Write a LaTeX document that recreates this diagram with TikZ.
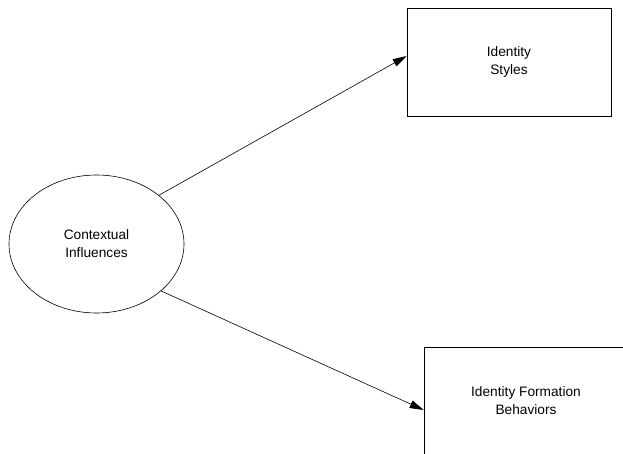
\documentclass[tikz,border=0pt]{standalone}
\usepackage{fontspec}
\setmainfont{Liberation Sans}
\usetikzlibrary{shapes.geometric,arrows.meta}
\begin{document}
\begin{tikzpicture}[x=1pt,y=-1pt]

    \tikzset{
      influence/.style={
        draw,
        ellipse,
        line width=0.6pt,
        inner sep=0pt,
        minimum width=175pt,
        minimum height=138pt,
        align=center,
        font=\fontsize{13.7}{18}\selectfont,
      },
      outcome/.style={
        draw,
        rectangle,
        line width=0.6pt,
        inner sep=0pt,
        minimum width=204pt,
        minimum height=108pt,
        align=center,
        font=\fontsize{13.7}{18}\selectfont,
      },
      link/.style={
        line width=0.6pt,
        -{Triangle[length=14pt,width=8pt]},
      },
    }
    \useasboundingbox (0,0) rectangle (623,453);
    \clip (0,0) rectangle (623,453);
	\node[influence] (ctx) at (96.5,244) {Contextual\\Influences};
	\node[outcome] (styles) at (509,62) {Identity\\Styles};
	\node[outcome] (formation) at (526,401) {Identity Formation\\Behaviors};
\draw[link] (ctx.38.7) -- ([yshift=6pt]styles.west);
\draw[link] (ctx.-36) -- ([yshift=-9pt]formation.west);


\end{tikzpicture}
\end{document}
